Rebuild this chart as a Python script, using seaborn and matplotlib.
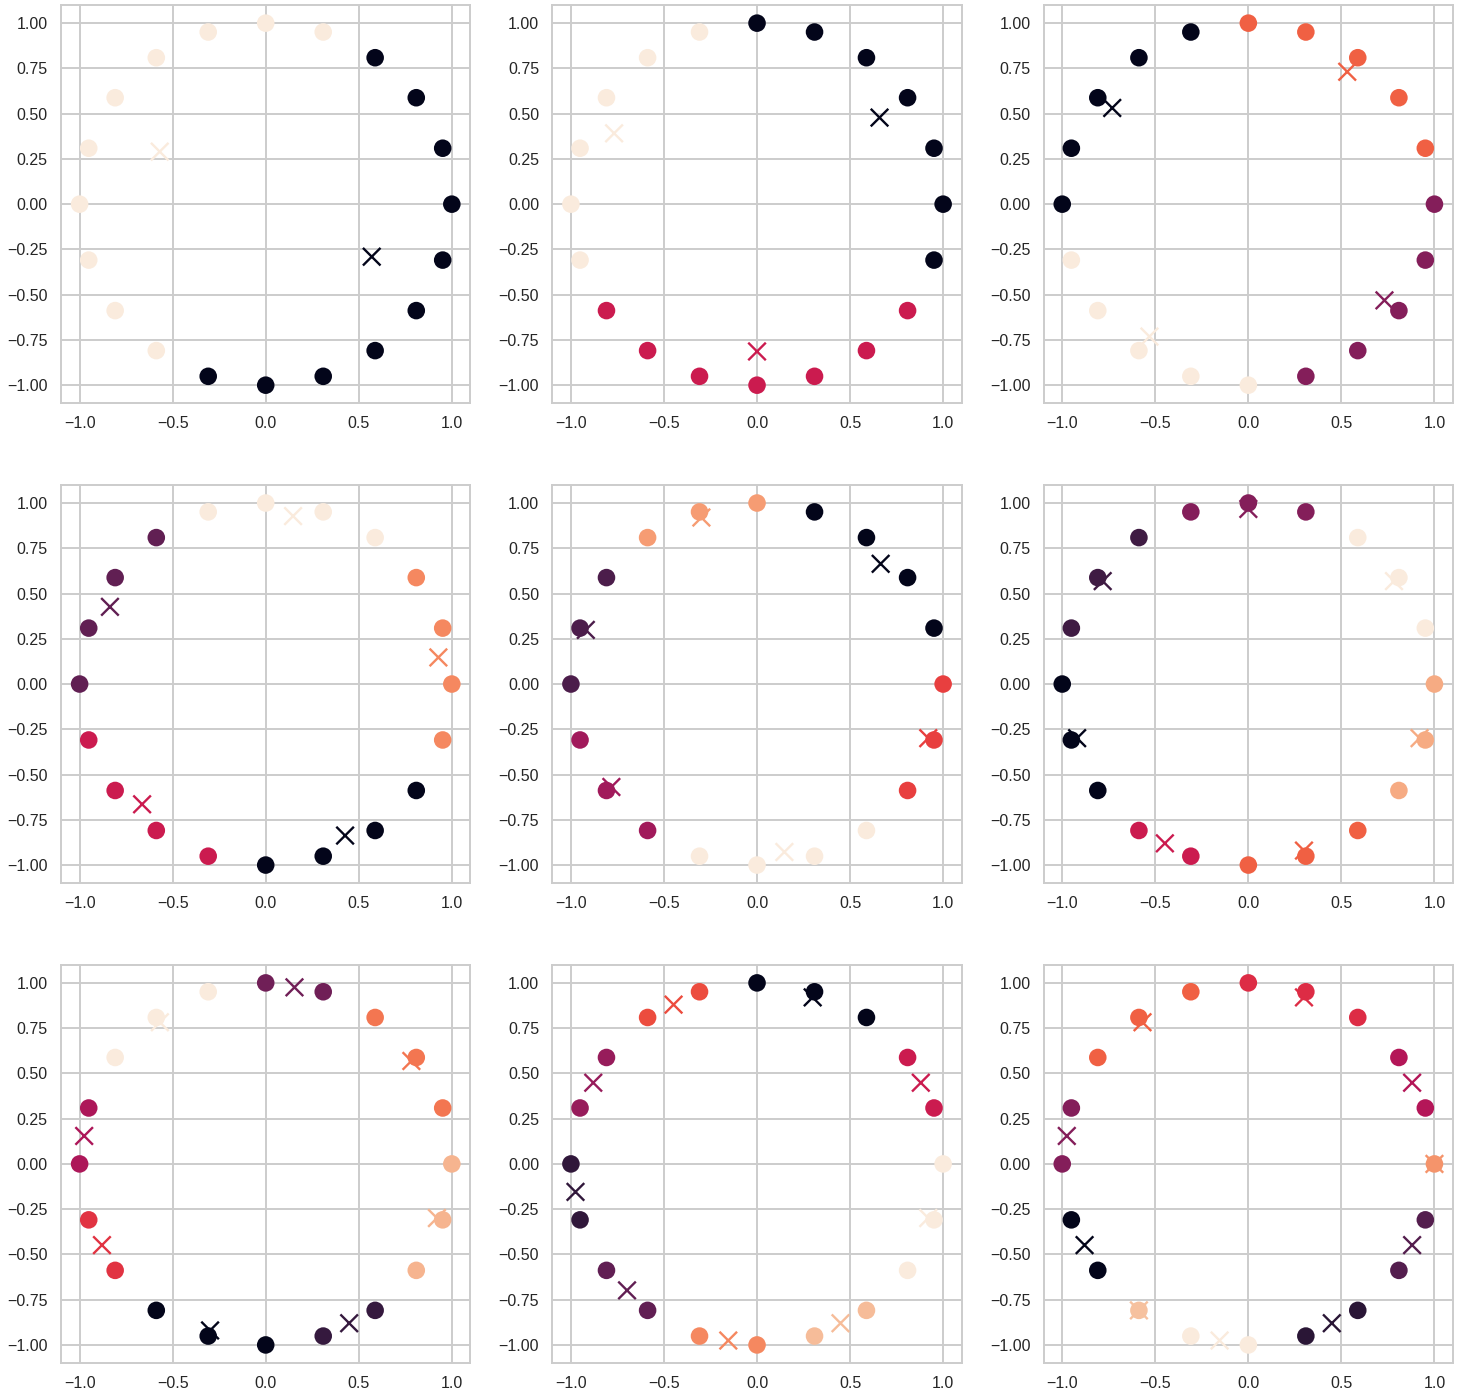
import matplotlib
matplotlib.use("Agg")
import matplotlib.pyplot as plt
import seaborn as sns
import pandas as pd

# 20 points on the unit circle
point_x = [1.000, 0.951, 0.809, 0.588, 0.309, 0.000, -0.309, -0.588, -0.809, -0.951,
           -1.000, -0.951, -0.809, -0.588, -0.309, 0.000, 0.309, 0.588, 0.809, 0.951]
point_y = [0.000, 0.309, 0.588, 0.809, 0.951, 1.000, 0.951, 0.809, 0.588, 0.309,
           0.000, -0.309, -0.588, -0.809, -0.951, -1.000, -0.951, -0.809, -0.588, -0.309]

# cluster label of each point, one list per panel (k = 2 .. 10)
labels_k2 = [0, 0, 0, 0, 1, 1, 1, 1, 1, 1, 1, 1, 1, 1, 0, 0, 0, 0, 0, 0]
labels_k3 = [0, 0, 0, 0, 0, 0, 2, 2, 2, 2, 2, 2, 1, 1, 1, 1, 1, 1, 1, 0]
labels_k4 = [1, 2, 2, 2, 2, 2, 0, 0, 0, 0, 0, 3, 3, 3, 3, 3, 1, 1, 1, 1]
labels_k5 = [3, 3, 3, 4, 4, 4, 4, 1, 1, 1, 1, 2, 2, 2, 2, 0, 0, 0, 0, 3]
labels_k6 = [3, 0, 0, 0, 0, 4, 4, 4, 1, 1, 1, 2, 2, 2, 5, 5, 5, 5, 3, 3]
labels_k7 = [5, 6, 6, 6, 2, 2, 2, 1, 1, 1, 0, 0, 0, 3, 3, 4, 4, 4, 5, 5]
labels_k8 = [6, 5, 5, 5, 2, 2, 7, 7, 7, 3, 3, 4, 4, 0, 0, 0, 1, 1, 6, 6]
labels_k9 = [8, 4, 4, 0, 0, 0, 5, 5, 3, 3, 1, 1, 2, 2, 6, 6, 7, 7, 8, 8]
labels_k10 = [7, 4, 4, 5, 5, 5, 6, 6, 6, 3, 3, 0, 0, 8, 9, 9, 1, 1, 2, 2]

all_labels = [labels_k2, labels_k3, labels_k4, labels_k5, labels_k6,
              labels_k7, labels_k8, labels_k9, labels_k10]
n_clusters = [2, 3, 4, 5, 6, 7, 8, 9, 10]

x_ticks = [-1.0, -0.5, 0.0, 0.5, 1.0]
y_ticks = [-1.0, -0.75, -0.5, -0.25, 0.0, 0.25, 0.5, 0.75, 1.0]

sns.set_theme(style="whitegrid")
plt.rcParams["font.family"] = ["Liberation Sans", "DejaVu Sans"]
plt.rcParams["grid.linewidth"] = 1.4
plt.rcParams["axes.linewidth"] = 1.4

fig, axes = plt.subplots(3, 3, figsize=(14.63, 14.0), dpi=100)
fig.subplots_adjust(left=0.0417, right=0.9932, top=0.9964, bottom=0.0264,
                    wspace=0.2, hspace=0.205)

for ax, labels, k in zip(axes.flat, all_labels, n_clusters):
    df = pd.DataFrame({"x": point_x, "y": point_y, "label": labels})
    centers = df.groupby("label", as_index=False)[["x", "y"]].mean()
    sns.scatterplot(data=centers, x="x", y="y", hue="label", palette="rocket",
                    hue_norm=(0, k - 1), marker="x", s=160, linewidth=1.7,
                    legend=False, ax=ax)
    sns.scatterplot(data=df, x="x", y="y", hue="label", palette="rocket",
                    hue_norm=(0, k - 1), s=160, linewidth=0,
                    legend=False, ax=ax)
    ax.set_xlim(-1.1, 1.1)
    ax.set_ylim(-1.1, 1.1)
    ax.set_xticks(x_ticks)
    ax.set_yticks(y_ticks)
    ax.set_xlabel("")
    ax.set_ylabel("")
    ax.tick_params(labelsize=11.5)

fig.savefig("out.png", dpi=100)
